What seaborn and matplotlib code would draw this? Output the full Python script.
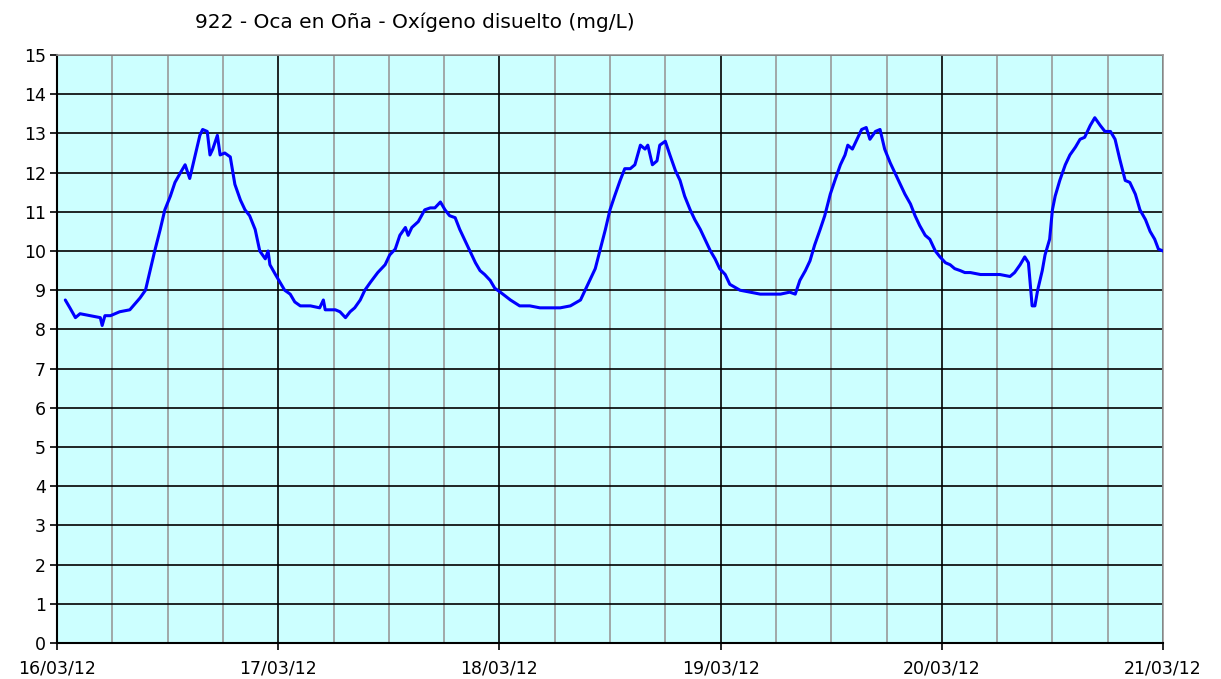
import pandas as pd
import numpy as np
import matplotlib
matplotlib.use('Agg')
import matplotlib.pyplot as plt
import matplotlib.dates as mdates
import seaborn as sns

# Oxígeno disuelto, horas desde 16/03/12 00:00 y valor (mg/L)
hours = [0.9, 1.4, 2.0, 2.5, 3.6, 4.7, 4.9, 5.2, 5.8, 6.8, 7.9, 9.0, 9.6, 10.1,
         10.6, 11.2, 11.7, 12.3, 12.8, 13.4, 13.9, 14.4, 15.0, 15.5, 15.8, 16.3,
         16.6, 16.9, 17.4, 17.7, 18.2, 18.8, 19.3, 19.9, 20.4, 20.9, 21.5, 22.0,
         22.6, 22.9, 23.1, 23.7, 24.2, 24.7, 25.3, 25.8, 26.4, 27.5, 28.5, 28.9,
         29.1, 30.2, 30.7, 31.3, 31.8, 32.3, 32.9, 33.4, 34.0, 34.8, 35.6, 36.1,
         36.7, 37.2, 37.8, 38.1, 38.5, 39.2, 39.9, 40.5, 41.0, 41.6, 42.1, 42.6,
         43.2, 43.7, 44.3, 44.8, 45.4, 45.9, 46.4, 47.0, 47.5, 48.1, 49.2, 50.2,
         51.3, 52.4, 53.5, 54.6, 55.7, 56.8, 57.3, 57.8, 58.4, 58.9, 59.5, 60.0,
         60.5, 61.1, 61.6, 62.2, 62.7, 63.3, 63.8, 64.1, 64.6, 65.1, 65.4, 66.0,
         66.5, 67.1, 67.6, 68.1, 68.7, 69.2, 69.8, 70.3, 70.9, 71.4, 71.9, 72.5,
         73.0, 74.1, 75.2, 76.3, 77.4, 78.5, 79.5, 80.1, 80.6, 81.2, 81.7, 82.2,
         82.8, 83.3, 83.9, 84.4, 85.0, 85.5, 85.8, 86.3, 86.8, 87.3, 87.8, 88.2,
         88.8, 89.3, 89.8, 90.4, 90.9, 91.5, 92.0, 92.6, 93.1, 93.6, 94.2, 94.7,
         95.3, 95.8, 96.4, 96.9, 97.4, 98.0, 98.5, 99.1, 100.2, 101.2, 102.3,
         103.4, 103.9, 104.5, 105.0, 105.4, 105.6, 105.8, 106.1, 106.4, 106.9,
         107.2, 107.7, 108.0, 108.3, 108.8, 109.4, 109.9, 110.5, 111.0, 111.5,
         112.1, 112.6, 113.2, 113.7, 114.3, 114.8, 115.3, 115.9, 116.4, 117.0,
         117.5, 118.1, 118.6, 119.1, 119.5, 120.0]
oxigeno = [8.75, 8.55, 8.3, 8.4, 8.35, 8.3, 8.1, 8.35, 8.35, 8.45, 8.5, 8.8, 9.0, 9.5,
           10.0, 10.55, 11.05, 11.4, 11.75, 12.0, 12.2, 11.85, 12.45, 12.95, 13.1, 13.05,
           12.45, 12.6, 12.95, 12.45, 12.5, 12.4, 11.7, 11.3, 11.05, 10.9, 10.55, 10.0,
           9.8, 10.0, 9.65, 9.4, 9.2, 9.0, 8.9, 8.7, 8.6, 8.6, 8.55, 8.75,
           8.5, 8.5, 8.45, 8.3, 8.45, 8.55, 8.75, 9.0, 9.2, 9.45, 9.65, 9.9,
           10.05, 10.4, 10.6, 10.4, 10.6, 10.75, 11.05, 11.1, 11.1, 11.25, 11.05, 10.9,
           10.85, 10.55, 10.25, 10.0, 9.7, 9.5, 9.4, 9.25, 9.05, 8.95, 8.75, 8.6,
           8.6, 8.55, 8.55, 8.55, 8.6, 8.75, 9.0, 9.25, 9.55, 10.0, 10.55, 11.05,
           11.4, 11.8, 12.1, 12.1, 12.2, 12.7, 12.6, 12.7, 12.2, 12.3, 12.7, 12.8,
           12.45, 12.05, 11.8, 11.4, 11.05, 10.8, 10.55, 10.3, 10.0, 9.8, 9.55, 9.4,
           9.15, 9.0, 8.95, 8.9, 8.9, 8.9, 8.95, 8.9, 9.25, 9.5, 9.75, 10.15,
           10.55, 10.9, 11.45, 11.8, 12.2, 12.45, 12.7, 12.6, 12.85, 13.1, 13.15, 12.85,
           13.05, 13.1, 12.6, 12.25, 12.0, 11.7, 11.45, 11.2, 10.9, 10.65, 10.4, 10.3,
           10.0, 9.85, 9.7, 9.65, 9.55, 9.5, 9.45, 9.45, 9.4, 9.4, 9.4,
           9.35, 9.45, 9.65, 9.85, 9.7, 9.15, 8.6, 8.6, 9.0, 9.5,
           9.9, 10.3, 11.05, 11.4, 11.8, 12.2, 12.45, 12.65, 12.85, 12.9,
           13.2, 13.4, 13.2, 13.05, 13.05, 12.85, 12.35, 11.8, 11.75, 11.45,
           11.05, 10.8, 10.5, 10.3, 10.05, 10.0]

start = pd.Timestamp('2012-03-16')
df = pd.DataFrame({'fecha': start + pd.to_timedelta(hours, unit='h'),
                   'oxigeno': oxigeno})

sns.set_style('white')
plt.rcParams['font.family'] = ['DejaVu Sans']
plt.rcParams['text.color'] = 'black'
plt.rcParams['xtick.color'] = 'black'
plt.rcParams['ytick.color'] = 'black'

fig = plt.figure(figsize=(12.21, 6.79), dpi=100)
ax = fig.add_axes([57/1221, 1 - 643/679, (1163 - 57)/1221, (643 - 55)/679])
ax.set_facecolor('#CCFFFF')

sns.lineplot(data=df, x='fecha', y='oxigeno', ax=ax, color='#0000FF',
             linewidth=2.2, zorder=3)

ax.set_xlim(start, start + pd.Timedelta(days=5))
ax.set_ylim(0, 15)
ax.set_yticks(range(0, 16))
ax.xaxis.set_major_locator(mdates.DayLocator())
ax.xaxis.set_minor_locator(mdates.HourLocator(byhour=[6, 12, 18]))
ax.xaxis.set_major_formatter(mdates.DateFormatter('%d/%m/%y'))

ax.grid(which='major', axis='both', color='black', linewidth=1.2, zorder=1)
ax.grid(which='minor', axis='x', color='#999999', linewidth=1.2, zorder=1)
ax.set_axisbelow(True)

ax.tick_params(axis='both', which='major', direction='out', length=5,
               width=1.2, color='black', labelcolor='black', labelsize=12.5,
               pad=3, left=True, bottom=True)
ax.tick_params(axis='x', which='minor', length=0)
ax.tick_params(axis='x', which='major', pad=7)

for side in ['left', 'bottom']:
    ax.spines[side].set_color('black')
    ax.spines[side].set_linewidth(1.5)
for side in ['top', 'right']:
    ax.spines[side].set_color('#999999')
    ax.spines[side].set_linewidth(1.2)

ax.set_xlabel('')
ax.set_ylabel('')

fig.text(415/1221, 1 - 22/679, '922 - Oca en Oña - Oxígeno disuelto (mg/L)',
         ha='center', va='center', fontsize=14.5, color='black')

fig.savefig('out.png', dpi=100)
